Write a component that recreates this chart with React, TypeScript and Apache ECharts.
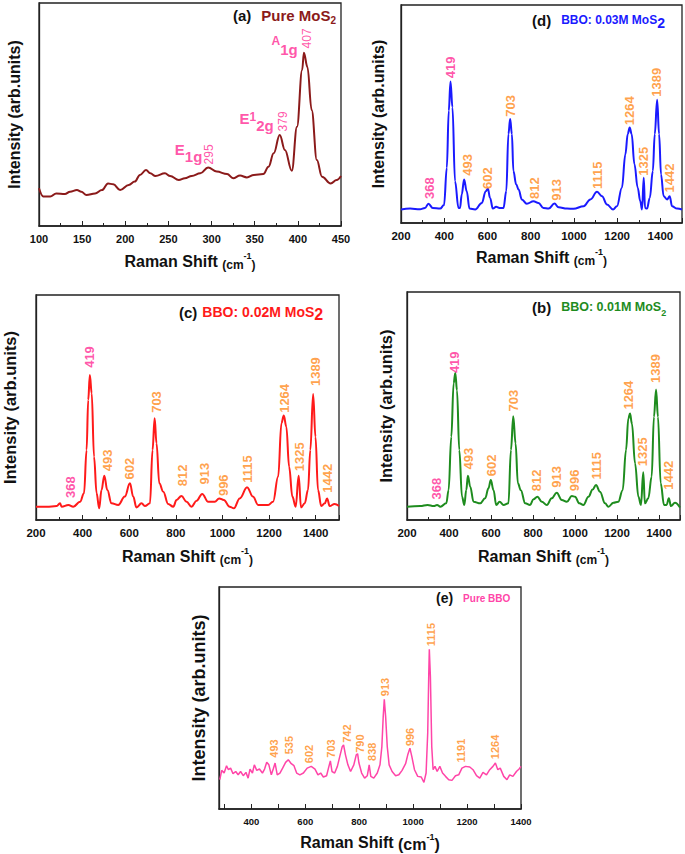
import React, { useEffect, useRef } from 'react';
import * as echarts from 'echarts';

const FONT = '"Liberation Sans", Arial, Helvetica, sans-serif';
const PINK = '#ff2a93';
const ORANGE = '#ff8a1c';
const INK = '#111111';

// ---------- (a) Pure MoS2 ----------
const aX = [100,105,113,120,130,136,144,149,155,165,173,180,186,194,204,211,217,224,229,235,246,252,262,269,277,287,296,306,318,325,333,341,349,360,366,372,379,385,393,399,405,407,411,416,422,428,438,445,450];
const aY = [16.9,13.2,13.2,14.6,14.3,15.4,16.1,15.4,13.9,14.6,16.1,19.1,18.7,16.1,18.4,19.9,22.9,25.1,23.6,22.4,23.6,22.4,20.6,21.4,22.4,23.6,26.2,24.4,23.3,21.4,22.6,21.8,22.9,23.3,26.6,32.6,40.8,34.1,24.8,44.5,70.0,77.7,71.4,52.0,29.6,22.1,19.1,20.6,22.4];
const aModes = ['E1g', 'E12g', 'A1g'];
const aModeX = [258, 333, 370];
const aModeY = [32.7, 46.2, 80.3];
const aNums = ['295', '379', '407'];
const aNumX = [298, 383, 411];
const aNumY = [27.4, 42.2, 79.4];

// ---------- (d) BBO: 0.03M MoS2 ----------
const dX = [200,242,288,311,327,347,381,399,412,421,429,438,450,466,473,481,492,504,517,543,574,592,602,612,625,640,656,674,687,697,705,713,720,733,744,759,782,813,836,859,883,910,929,968,998,1045,1076,1107,1130,1153,1181,1199,1222,1238,1249,1258,1267,1280,1295,1307,1315,1323,1329,1338,1351,1365,1374,1385,1394,1403,1415,1431,1443,1454,1477,1500];
const dY = [6.2,6.6,6.3,6.9,8.8,6.9,6.6,8.2,25.4,51.5,64.9,53.1,19.2,6.9,6.9,13.1,20.0,14.6,6.6,6.2,9.2,14.6,15.7,11.5,6.6,7.4,6.9,6.9,14.6,40.8,47.7,40.8,23.8,17.7,15.4,10.8,8.8,10.0,9.2,6.9,6.6,8.9,7.2,6.6,6.5,7.7,10.8,14.3,12.3,8.5,6.2,7.7,16.2,31.5,40.8,43.8,40.8,26.9,16.2,10.0,6.2,20.8,6.9,6.6,11.5,23.8,40.8,56.5,40.8,22.3,12.3,10.8,12.3,7.7,6.6,6.2];
const dLab = ['368','419','493','602','703','812','913','1115','1264','1325','1389','1442'];
const dLabX = [334,432,509,601,708,818,921,1111,1258,1323,1385,1446];
const dLabY = [10.8,66.2,21.5,15.4,48.5,10.8,10.0,15.4,44.6,21.5,57.7,13.8];

// ---------- (c) BBO: 0.02M MoS2 ----------
const cX = [200,246,289,303,310,339,360,389,406,417,424,431,439,449,460,471,481,493,506,524,553,581,603,617,631,653,667,689,700,709,717,729,746,767,789,803,824,846,867,889,913,939,967,986,1006,1031,1049,1074,1106,1131,1153,1174,1196,1217,1239,1253,1263,1274,1286,1300,1314,1327,1337,1353,1367,1377,1389,1399,1410,1424,1439,1449,1460,1481,1500];
const cY = [5.9,5.9,6.2,7.4,5.9,6.7,5.9,8.1,11.9,31.1,53.3,64.4,56.3,28.1,11.9,5.2,13.3,19.7,13.3,7.4,6.7,10.4,16.3,10.4,5.6,7.4,6.2,7.4,31.1,45.2,34.1,16.3,12.6,7.1,5.9,8.9,10.7,8.1,5.9,8.6,11.6,8.1,8.1,9.6,8.9,5.9,5.2,9.6,14.5,10.4,6.7,6.7,6.7,8.1,19.3,43.0,46.4,41.5,23.7,10.4,5.9,19.7,5.6,7.4,13.3,31.1,56.0,37.0,13.3,6.2,7.4,9.6,6.2,7.1,6.2];
const cLab = ['368','419','493','602','703','812','913','996','1115','1264','1325','1389','1442'];
const cLabX = [350,431,510,603,717,829,924,1006,1110,1267,1334,1403,1453];
const cLabY = [9.6,67.4,21.5,17.8,47.4,14.8,15.6,10.4,16.3,47.4,21.5,59.3,11.9];

// ---------- (b) BBO: 0.01M MoS2 ----------
const bX = [200,263,298,327,343,359,387,398,411,422,430,438,449,462,473,482,490,501,517,549,572,588,599,612,625,641,660,683,695,706,717,728,742,763,786,802,821,842,866,889,913,937,961,985,1000,1021,1040,1064,1084,1100,1119,1143,1159,1183,1206,1227,1243,1254,1262,1271,1286,1302,1314,1325,1333,1349,1365,1376,1386,1395,1408,1424,1436,1447,1457,1476,1500];
const bY = [5.8,6.1,6.6,6.1,6.6,5.8,7.3,13.1,36.5,59.9,64.5,56.9,30.7,10.2,6.6,13.1,19.4,14.6,8.0,7.3,9.5,13.9,17.5,13.1,6.6,8.0,6.6,7.3,30.7,45.5,33.6,16.1,13.1,7.3,6.6,9.1,10.2,8.0,6.6,9.5,12.0,8.8,8.0,10.5,10.2,7.3,6.6,10.2,13.4,15.3,12.4,7.3,5.8,7.6,8.0,13.1,30.7,44.5,46.7,42.3,24.8,10.2,6.6,20.9,7.3,9.5,19.0,45.3,57.2,45.3,16.1,6.6,6.6,9.5,6.1,7.6,5.5];
const bLab = ['368','419','493','602','703','812','913','996','1115','1264','1325','1389','1442'];
const bLabX = [343,430,493,604,710,821,913,1000,1103,1259,1325,1386,1449];
const bLabY = [8.8,64.2,21.9,19.0,47.4,12.4,13.9,12.4,17.5,48.2,23.4,59.9,13.1];

// ---------- (e) Pure BBO ----------
const eX = [283,290,299,308,315,323,332,342,351,360,370,380,388,395,404,411,420,430,441,449,457,465,474,482,488,496,506,516,527,537,548,558,568,580,593,607,622,636,647,657,667,679,686,693,699,709,719,728,737,742,749,758,768,780,789,794,799,809,820,830,837,843,854,867,877,884,889,893,898,904,911,922,935,947,959,972,980,988,995,1005,1017,1030,1040,1048,1054,1058,1060,1064,1069,1074,1081,1089,1099,1109,1120,1132,1144,1157,1169,1181,1194,1210,1222,1235,1247,1259,1272,1284,1296,1305,1314,1323,1336,1348,1358,1370,1383,1393,1400];
const eY = [13.2,17.4,16.2,19.5,17.7,18.4,15.9,16.9,15.4,16.9,15.0,16.5,13.9,18.0,16.2,19.9,17.4,18.0,16.2,18.0,21.1,19.9,15.4,18.4,20.7,15.4,16.2,18.4,21.0,22.2,20.4,19.5,16.2,15.4,16.2,18.4,19.2,18.0,15.4,16.2,14.4,15.0,18.4,21.7,16.9,16.2,19.2,23.7,28.1,28.9,24.4,19.9,16.9,19.9,24.4,24.9,20.7,16.2,13.9,15.0,19.9,14.7,13.9,16.2,19.9,28.1,41.6,49.4,41.6,28.1,19.9,16.9,15.0,15.4,17.4,20.4,24.4,27.4,23.7,17.7,14.7,14.4,12.0,16.2,34.1,61.1,71.9,59.6,28.1,17.7,19.2,16.9,19.2,16.2,14.7,13.2,12.9,15.0,15.4,18.4,19.2,18.9,17.7,15.0,13.9,16.5,15.4,17.7,19.2,20.7,17.7,18.4,14.7,13.2,15.4,14.7,16.9,18.0,19.2];
const eLab = ['493','535','602','703','742','790','838','913','996','1115','1191','1264'];
const eLabX = [486,540,617,696,756,805,848,898,990,1067,1181,1305];
const eLabY = [22.9,24.4,20.4,22.9,29.6,25.1,21.4,50.6,28.1,73.1,20.7,22.2];

const mos2Peaks = ['368', '419'];
const eTickLabels = [400, 600, 800, 1000, 1200, 1400];
const eTicks = [300, 400, 500, 600, 700, 800, 900, 1000, 1100, 1200, 1300, 1400];

const pts = (xs: number[], ys: number[]) => xs.map((x, i) => [x, ys[i]]);

const grids = [
  { left: 39, top: 3, width: 302, height: 223 },   // a
  { left: 401, top: 5, width: 281, height: 218 },  // d
  { left: 36, top: 295, width: 303, height: 225 }, // c
  { left: 407, top: 292, width: 273, height: 228 },// b
  { left: 219, top: 587, width: 302, height: 222 },// e
].map((g) => ({ ...g, show: true, borderColor: '#222', borderWidth: 1.3, backgroundColor: 'transparent' }));

const xNameRich = (big: number, small: number) => ({
  n: { fontSize: big, fontWeight: 'bold', color: INK, fontFamily: FONT, lineHeight: big + 4 },
  p: { fontSize: small, fontWeight: 'bold', color: INK, fontFamily: FONT, lineHeight: big + 4, verticalAlign: 'bottom' },
  s: { fontSize: 9, fontWeight: 'bold', color: INK, fontFamily: FONT, lineHeight: 9, verticalAlign: 'top' },
});

function makeX(gi: number, min: number, max: number, interval: number | null, labelSize: number, nameGap: number, small: number, minorSplit = 2) {
  const ax: any = {
    type: 'value', gridIndex: gi, min, max,
    axisLine: { show: true, onZero: false, lineStyle: { color: '#222', width: 1.5 } },
    axisTick: { show: true, inside: true, length: 5, lineStyle: { color: '#222', width: 1 } },
    minorTick: { show: true, splitNumber: minorSplit, length: 3, lineStyle: { color: '#222', width: 1 } },
    splitLine: { show: false }, minorSplitLine: { show: false },
    axisLabel: {
      show: true, margin: 7, fontSize: labelSize, fontWeight: 'bold', color: INK, fontFamily: FONT,
      formatter: (v: number) => String(v),
    },
    name: '{n|Raman Shift }{p|(cm}{s|-1}{p|)}',
    nameLocation: 'middle', nameGap,
    nameTextStyle: { rich: xNameRich(16, small) },
  };
  if (interval !== null) ax.interval = interval;
  return ax;
}

function makeY(gi: number, nameGap: number, size: number) {
  return {
    type: 'value', gridIndex: gi, min: 0, max: 100,
    axisLine: { show: true, lineStyle: { color: '#222', width: 1.3 } },
    axisTick: { show: false }, axisLabel: { show: false }, splitLine: { show: false },
    name: 'Intensity (arb.units)', nameLocation: 'middle', nameRotate: 90, nameGap,
    nameTextStyle: { fontSize: size, fontWeight: 'bold', color: INK, fontFamily: FONT },
  };
}

function spectrum(gi: number, xs: number[], ys: number[], color: string, width: number, smooth: number | boolean) {
  return {
    type: 'line', xAxisIndex: gi, yAxisIndex: gi, data: pts(xs, ys),
    showSymbol: false, symbol: 'none', smooth, smoothMonotone: 'x',
    lineStyle: { color, width }, silent: true, z: 3,
  };
}

function peakLabels(gi: number, texts: string[], xs: number[], ys: number[], size: number, pinkAll = false) {
  return {
    type: 'scatter', xAxisIndex: gi, yAxisIndex: gi, symbolSize: 1,
    itemStyle: { color: 'rgba(0,0,0,0)' }, silent: true, z: 6,
    data: texts.map((t, i) => ({
      value: [xs[i], ys[i]], name: t,
      label: { color: pinkAll || mos2Peaks.includes(t) ? PINK : ORANGE },
    })),
    label: {
      show: true, formatter: '{b}', rotate: 90, position: [0, 0], align: 'left', verticalAlign: 'middle',
      fontSize: size, fontWeight: pinkAll ? 'normal' : 'bold', fontFamily: FONT,
    },
  };
}

const modeRich: Record<string, string> = {
  E1g: '{m|E}{d|1g}',
  E12g: '{m|E}{u|1}{m2|2g}',
  A1g: '{a|A}{m2|1g}',
};

function modeLabels(gi: number) {
  return {
    type: 'scatter', xAxisIndex: gi, yAxisIndex: gi, symbolSize: 1,
    itemStyle: { color: 'rgba(0,0,0,0)' }, silent: true, z: 6,
    data: aModes.map((t, i) => ({ value: [aModeX[i], aModeY[i]], name: t })),
    label: {
      show: true, position: [0, 0], align: 'left', verticalAlign: 'middle',
      formatter: (p: any) => modeRich[p.name],
      rich: {
        m: { fontSize: 15, fontWeight: 'bold', color: PINK, fontFamily: FONT, lineHeight: 22, verticalAlign: 'top' },
        d: { fontSize: 15, fontWeight: 'bold', color: PINK, fontFamily: FONT, lineHeight: 22, verticalAlign: 'bottom' },
        u: { fontSize: 12, fontWeight: 'bold', color: PINK, fontFamily: FONT, lineHeight: 12, verticalAlign: 'top' },
        m2: { fontSize: 15, fontWeight: 'bold', color: PINK, fontFamily: FONT, lineHeight: 22, verticalAlign: 'bottom' },
        a: { fontSize: 12, fontWeight: 'bold', color: PINK, fontFamily: FONT, lineHeight: 12, verticalAlign: 'top' },
      },
    },
  };
}

const titleRich = (color: string, kSize: number, tSize: number, sSize: number) => ({
  k: { fontSize: kSize, fontWeight: 'bold', color: INK, fontFamily: FONT, lineHeight: 20 },
  t: { fontSize: tSize, fontWeight: 'bold', color, fontFamily: FONT, lineHeight: 20 },
  s: { fontSize: sSize, fontWeight: 'bold', color, fontFamily: FONT, lineHeight: sSize, verticalAlign: 'bottom' },
});

export default function App() {
  const ref = useRef<HTMLDivElement>(null);
  useEffect(() => {
    if (!ref.current) return;
    const chart = echarts.init(ref.current, null, { renderer: 'svg' });
    const option: any = {
      animation: false,
      backgroundColor: '#ffffff',
      title: [
        { left: 233, top: 5, padding: 0, text: '{k|(a)}  {t|Pure MoS}{s|2}', textStyle: { rich: titleRich('#8b1a1a', 15, 15, 10) } },
        { left: 532, top: 10, padding: 0, text: '{k|(d)}  {t|BBO: 0.03M MoS}{s|2}', textStyle: { rich: titleRich('#1a1aff', 15, 12, 14) } },
        { left: 179, top: 302, padding: 0, text: '{k|(c)} {t|BBO: 0.02M MoS}{s|2}', textStyle: { rich: titleRich('#ff1a1a', 15, 14, 16) } },
        { left: 532, top: 297, padding: 0, text: '{k|(b)}  {t|BBO: 0.01M MoS}{s|2}', textStyle: { rich: titleRich('#1e8c1e', 15, 12.5, 9) } },
        { left: 436, top: 588, padding: 0, text: '{k|(e)}  {t|Pure BBO}', textStyle: { rich: titleRich('#ff45a8', 14, 10, 9) } },
      ],
      grid: grids,
      xAxis: [
        makeX(0, 100, 450, 50, 11, 25, 12),
        makeX(1, 200, 1500, 200, 11.5, 24, 12),
        makeX(2, 200, 1500, 200, 11.5, 26, 12),
        makeX(3, 200, 1500, 200, 11.5, 26, 12),
        (() => {
          const ax = makeX(4, 280, 1400, null, 9.5, 23, 16);
          ax.axisLabel.customValues = eTickLabels;
          ax.axisTick.customValues = eTicks;
          ax.minorTick = { show: false };
          return ax;
        })(),
      ],
      yAxis: [
        makeY(0, 17, 16),
        makeY(1, 15, 16),
        makeY(2, 18, 16.5),
        makeY(3, 13, 16.5),
        makeY(4, 11, 18),
      ],
      series: [
        spectrum(0, aX, aY, '#8b1a1a', 2, 0.4),
        spectrum(1, dX, dY, '#1a1aff', 2, 0.4),
        spectrum(2, cX, cY, '#ff1a1a', 2, 0.4),
        spectrum(3, bX, bY, '#1e8c1e', 2, 0.4),
        spectrum(4, eX, eY, '#ff45a8', 1.5, false),
        modeLabels(0),
        peakLabels(0, aNums, aNumX, aNumY, 12, true),
        peakLabels(1, dLab, dLabX, dLabY, 13),
        peakLabels(2, cLab, cLabX, cLabY, 13),
        peakLabels(3, bLab, bLabX, bLabY, 13),
        peakLabels(4, eLab, eLabX, eLabY, 11),
      ],
    };
    chart.setOption(option);
    return () => chart.dispose();
  }, []);
  return (
    <div
      ref={ref}
      style={{ position: 'absolute', left: 0, top: 0, width: 685, height: 854, background: '#fff' }}
    />
  );
}
